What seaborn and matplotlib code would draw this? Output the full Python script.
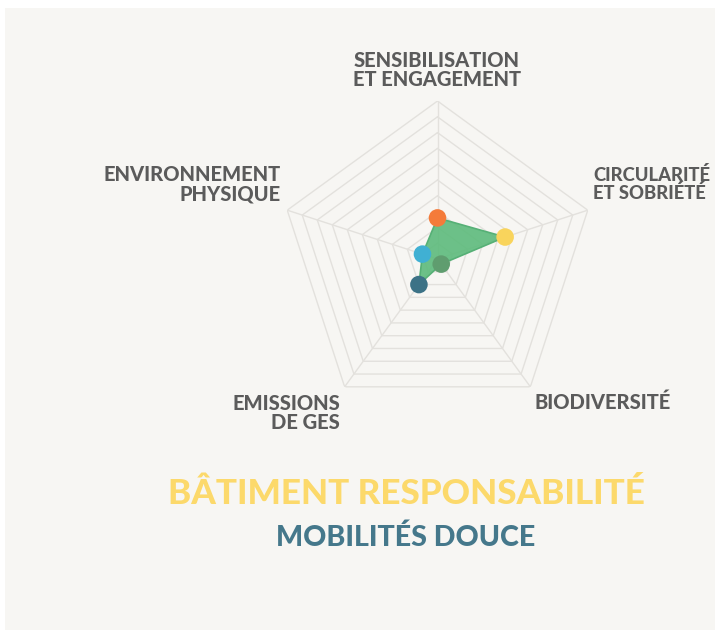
import numpy as np
import pandas as pd
import seaborn as sns
import matplotlib.pyplot as plt
from matplotlib.patches import Rectangle

# Axes of the radar (clockwise from the top) and their scores on a 0-10 scale
axes_labels = [
    "SENSIBILISATION\nET ENGAGEMENT",
    "CIRCULARITÉ\nET SOBRIÉTÉ",
    "BIODIVERSITÉ",
    "EMISSIONS\nDE GES",
    "ENVIRONNEMENT\nPHYSIQUE",
]
scores = [2.6, 4.5, 0.4, 2.0, 1.0]
point_colors = ["#f47b3a", "#f9d45c", "#5f9d6f", "#3c7286", "#40b0d3"]
max_score = 10
n_rings = 10

title = "BÂTIMENT RESPONSABILITÉ"
subtitle = "MOBILITÉS DOUCE"

sns.set_theme(style="white")
plt.rcParams["font.family"] = ["Lato", "DejaVu Sans"]

W, H = 715, 634
fig = plt.figure(figsize=(W / 100, H / 100), dpi=100)
fig.patch.set_facecolor("white")
fig.add_artist(Rectangle((5 / W, 4 / H), 1 - 5 / W, 1 - 12 / H,
                         transform=fig.transFigure, facecolor="#f7f6f3",
                         edgecolor="none", zorder=0))

cx, cy, R = 437.5, 259, 158
ax = fig.add_axes([(cx - R) / W, (H - cy - R) / H, 2 * R / W, 2 * R / H],
                  projection="polar")
ax.patch.set_alpha(0)
ax.set_theta_offset(np.pi / 2)
ax.set_theta_direction(-1)
ax.set_ylim(0, max_score)
ax.grid(False)
ax.spines["polar"].set_visible(False)
ax.set_xticks([])
ax.set_yticks([])

n = len(axes_labels)
theta = np.arange(n) * 2 * np.pi / n
seg = np.linspace(0, 1, 40)


def straight_polygon(radii):
    """Sample the straight edges of a polygon given one radius per axis."""
    r = np.asarray(radii, dtype=float)
    x, y = r * np.sin(theta), r * np.cos(theta)
    x, y = np.append(x, x[0]), np.append(y, y[0])
    xs = np.concatenate([x[i] + (x[i + 1] - x[i]) * seg for i in range(n)])
    ys = np.concatenate([y[i] + (y[i + 1] - y[i]) * seg for i in range(n)])
    return np.arctan2(xs, ys), np.hypot(xs, ys)


# pentagon rings and spokes
grid_color = "#e3e1dd"
for k in range(1, n_rings + 1):
    level = max_score * k / n_rings
    t, r = straight_polygon([level] * n)
    ax.plot(t, r, color=grid_color, lw=1.0, zorder=1)
for t in theta:
    ax.plot([t, t], [0, max_score], color=grid_color, lw=1.0, zorder=1)

# filled score polygon
t, r = straight_polygon(scores)
ax.fill(t, r, color="#5dbb7c", alpha=0.9, zorder=2, lw=0)
ax.plot(t, r, color="#56b076", lw=1.2, zorder=3)

df = pd.DataFrame({"theta": theta, "score": scores, "axe": axes_labels})
sns.scatterplot(data=df, x="theta", y="score", hue="axe",
                palette=dict(zip(axes_labels, point_colors)), s=160,
                edgecolor="none", legend=False, ax=ax, zorder=4)
ax.set_xlabel("")
ax.set_ylabel("")
ax.set_ylim(0, max_score)

# axis labels
label_color = "#5b5b5b"
label_kw = dict(color=label_color, fontweight=900, linespacing=1.05,
                transform=fig.transFigure)
label_pos = [
    (437, 70, "center", 14.5),
    (593, 184, "left", 13.2),
    (535, 402, "left", 14.5),
    (340, 413, "right", 14.5),
    (281, 184, "right", 14.5),
]
for lab, (x, y, ha, size) in zip(axes_labels, label_pos):
    fig.text(x / W, 1 - y / H, lab, ha=ha, va="center", fontsize=size,
             multialignment=ha, **label_kw)

fig.text(406 / W, 1 - 494 / H, title, ha="center", va="center",
         color="#fcd96b", fontsize=25.3, fontweight=900)
fig.text(406 / W, 1 - 538 / H, subtitle, ha="center", va="center",
         color="#45788b", fontsize=20.6, fontweight=900)

fig.savefig("out.png", dpi=100)
